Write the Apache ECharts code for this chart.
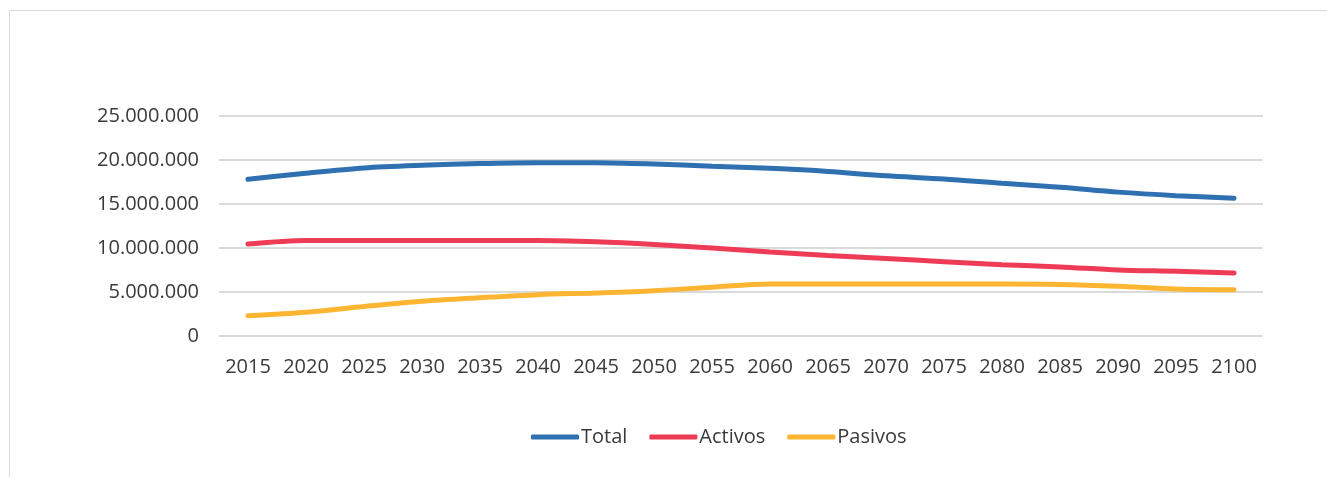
<!DOCTYPE html>
<html>
<head>
<meta charset="utf-8">
<title>Total, Activos, Pasivos</title>
<script src="https://cdn.jsdelivr.net/npm/echarts@6/dist/echarts.min.js"></script>
<style>
  html, body { margin: 0; padding: 0; background: #fff; }
  #chart { width: 1327px; height: 477px; }
</style>
</head>
<body>
<div id="chart"></div>
<script>
const years = ['2015', '2020', '2025', '2030', '2035', '2040', '2045', '2050', '2055',
  '2060', '2065', '2070', '2075', '2080', '2085', '2090', '2095', '2100']
const total = [17800000, 18500000, 19100000, 19400000, 19600000, 19700000, 19700000, 19550000, 19300000,
  19050000, 18700000, 18200000, 17850000, 17350000, 16900000, 16350000, 15950000, 15650000]
const activos = [10450000, 10850000, 10850000, 10850000, 10850000, 10850000, 10700000, 10400000, 10000000,
  9550000, 9150000, 8800000, 8450000, 8100000, 7850000, 7500000, 7350000, 7150000]
const pasivos = [2300000, 2700000, 3350000, 3950000, 4350000, 4700000, 4900000, 5150000, 5550000,
  5900000, 5900000, 5900000, 5900000, 5900000, 5850000, 5650000, 5350000, 5250000]
const colors = ['#2f70b0', '#ef3c56', '#fdb532']

// 25000000 -> 25.000.000
const fmt = v => String(v).replace(/\B(?=(\d{3})+(?!\d))/g, '.')

let myChart = echarts.init(document.getElementById('chart'))

const mkSeries = (name, data, color) => ({
  name: name,
  type: 'line',
  data: data,
  smooth: 0.3,
  symbol: 'none',
  lineStyle: { width: 5, color: color, cap: 'round' },
  itemStyle: { color: color },
})

let option = {
  animation: false,
  textStyle: { fontFamily: 'Open Sans' },
  graphic: [
    {
      type: 'rect',
      shape: { x: 9.5, y: 10.5, width: 1500, height: 600 },
      style: { fill: 'none', stroke: '#d9d9d9', lineWidth: 1 },
      silent: true,
    },
  ],
  legend: {
    data: ['Total', 'Activos', 'Pasivos'],
    left: 526,
    top: 422,
    icon: 'roundRect',
    itemWidth: 48,
    itemHeight: 5,
    itemGap: 22,
    textStyle: { fontSize: 20, color: '#3a3a3a', fontFamily: 'Open Sans', padding: [0, 0, 0, -3] },
  },
  grid: {
    left: 219,
    right: 64,
    top: 116,
    bottom: 141,
    containLabel: false,
    outerBoundsMode: 'none',
  },
  xAxis: {
    type: 'category',
    data: years,
    boundaryGap: true,
    axisLine: { show: false },
    axisTick: { show: false },
    axisLabel: { fontSize: 20, color: '#3a3a3a', margin: 21, interval: 0 },
  },
  yAxis: {
    type: 'value',
    min: 0,
    max: 25000000,
    interval: 5000000,
    axisLine: { show: false },
    axisTick: { show: false },
    axisLabel: { fontSize: 20, color: '#3a3a3a', margin: 20, formatter: fmt },
    splitLine: { lineStyle: { color: '#dadada', width: 2 } },
  },
  series: [
    mkSeries('Total', total, colors[0]),
    mkSeries('Activos', activos, colors[1]),
    mkSeries('Pasivos', pasivos, colors[2]),
  ],
}

myChart.setOption(option)
</script>
</body>
</html>
